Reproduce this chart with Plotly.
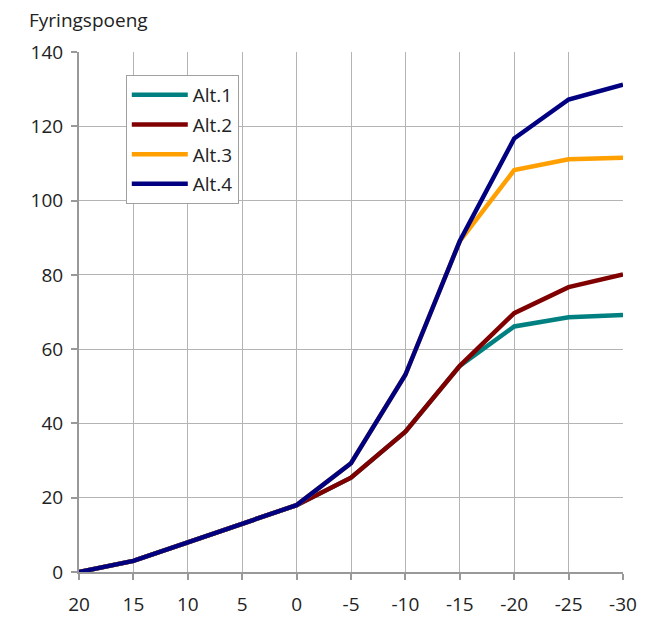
import plotly.graph_objects as go

temps = [20, 15, 10, 5, 0, -5, -10, -15, -20, -25, -30]
tick_labels = ["20", "15", "10", "5", "0", "-5", "-10", "-15", "-20", "-25", "-30"]

alt1 = [0, 3, 8, 13, 18, 25.4, 37.8, 55.5, 66.1, 68.6, 69.2]
alt2 = [0, 3, 8, 13, 18, 25.4, 37.8, 55.5, 69.7, 76.7, 80.1]
alt3 = [0, 3, 8, 13, 18, 29.3, 53.1, 89.1, 108.2, 111.1, 111.5]
alt4 = [0, 3, 8, 13, 18, 29.3, 53.1, 89.1, 116.7, 127.2, 131.2]

series = [
    ("Alt.1", alt1, "#008080"),
    ("Alt.2", alt2, "#800000"),
    ("Alt.3", alt3, "#FF9F00"),
    ("Alt.4", alt4, "#000080"),
]

fig = go.Figure()
for name, vals, color in series:
    fig.add_trace(go.Scatter(x=temps, y=vals, mode="lines", name=name,
                             legendgroup=name,
                             line=dict(color=color, width=4.5)))

font_family = "Open Sans, Noto Sans, sans-serif"

fig.update_layout(
    width=653, height=619,
    margin=dict(l=79, r=30, t=52, b=47),
    paper_bgcolor="white", plot_bgcolor="white",
    font=dict(family=font_family, size=19, color="#222222"),
    showlegend=True,
    legend=dict(x=0.086, y=0.956, xanchor="left", yanchor="top",
                bgcolor="white", bordercolor="#A0A0A0", borderwidth=1,
                font=dict(size=19), tracegroupgap=2, itemwidth=56,
                entrywidth=140),
    xaxis=dict(range=[20, -30], tickvals=temps, ticktext=tick_labels,
               showgrid=True, gridcolor="#B4B4B4", gridwidth=1,
               showline=True, linecolor="#999999", linewidth=2,
               ticks="outside", ticklen=6, tickcolor="#999999", tickwidth=2,
               ticklabelstandoff=8, zeroline=False, automargin=False),
    yaxis=dict(range=[0, 140], dtick=20,
               showgrid=True, gridcolor="#B4B4B4", gridwidth=1,
               showline=True, linecolor="#999999", linewidth=2,
               ticks="outside", ticklen=6, tickcolor="#999999", tickwidth=2,
               ticklabelstandoff=4, zeroline=False, automargin=False),
    annotations=[dict(text="Fyringspoeng", xref="paper", yref="paper",
                      x=-0.096, y=1.062, xanchor="left", yanchor="middle",
                      showarrow=False, font=dict(size=19))],
)

fig.write_html("out.html")
